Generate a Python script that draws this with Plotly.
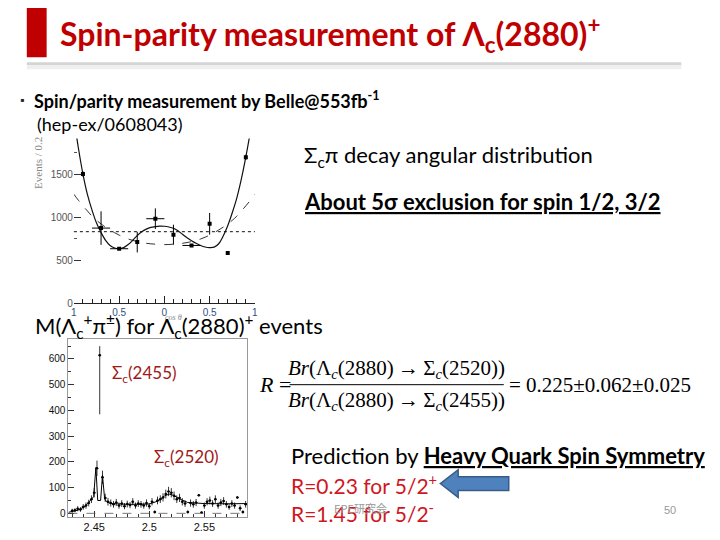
import plotly.graph_objects as go

W, H = 720, 540
def px(x): return x / W
def py(y): return 1 - y / H

# ---------------- data: angular distribution ----------------
cos_centers = [-0.9, -0.7, -0.5, -0.3, -0.1, 0.1, 0.3, 0.5, 0.7, 0.9]
cos_counts = [1500, 872, 632, 709, 981, 795, 670, 922, 581, 1694]
cos_err = [30, 195, 15, 120, 120, 116, 15, 126, 10, 30]
cos_xerr = [0.0, 0.1, 0.1, 0.0, 0.1, 0.0, 0.1, 0.0, 0.0, 0.0]

fit_x = [-1.0, -0.95, -0.9, -0.85, -0.8, -0.75, -0.7, -0.65, -0.6, -0.55, -0.5, -0.45, -0.4,
         -0.35, -0.3, -0.25, -0.2, -0.15, -0.1, -0.05, 0.0, 0.05, 0.1, 0.15, 0.2, 0.25, 0.3,
         0.35, 0.4, 0.45, 0.5, 0.55, 0.6, 0.65, 0.7, 0.75, 0.8, 0.85, 0.9, 0.95, 1.0]
fit_52 = [2150, 1800, 1500, 1260, 1080, 930, 820, 730, 670, 640, 632, 645, 680,
          730, 785, 830, 860, 880, 890, 895, 893, 885, 870, 840, 800, 760, 725,
          695, 670, 652, 645, 650, 690, 780, 900, 1050, 1220, 1440, 1700, 1990, 2300]
fit_32 = [1265, 1195, 1130, 1070, 1010, 962, 920, 883, 850, 818, 790, 766, 745,
          729, 715, 704, 695, 689, 685, 681, 680, 681, 685, 689, 695, 704, 715,
          729, 745, 766, 790, 818, 850, 883, 920, 962, 1010, 1070, 1130, 1195, 1265]
flat_level = 830

cos_ticks = [-1, -0.5, 0, 0.5, 1]
cos_ticktext = ["1", "0.5", "0", "0.5", "1"]
ev_ticks = [0, 500, 1000, 1500]

# ---------------- data: mass distribution ----------------
mass = [2.4300 + 0.0025 * i for i in range(64)]
mass_counts = [10, 12, 18, 15, 25, 30, 40, 55, 80, 175, 615, 140, 60, 45, 40, 35,
               42, 30, 38, 28, 36, 32, 45, 30, 38, 35, 30, 40, 28, 45, 5, 50,
               55, 62, 75, 85, 80, 68, 55, 60, 45, 38, 5, 40, 35, 42, 70, 3,
               30, 45, 50, 38, 55, 30, 42, 48, 35, 25, 38, 30, 62, 20, 5, 35]
mass_err_up = [8, 8, 10, 9, 11, 12, 13, 15, 18, 30, 35, 26, 16, 15, 14, 13,
               14, 12, 13, 12, 13, 12, 14, 12, 13, 13, 12, 14, 12, 14, 6, 15,
               15, 16, 17, 18, 18, 17, 15, 16, 14, 13, 6, 14, 13, 14, 4, 4,
               12, 14, 15, 13, 15, 12, 14, 15, 13, 11, 13, 12, 4, 11, 6, 13]
mass_err_dn = list(mass_err_up)
mass_err_dn[10] = 230

curve_m = [2.4266, 2.435, 2.442, 2.447, 2.4495, 2.4515, 2.4532, 2.4558, 2.4575, 2.4595,
           2.4615, 2.465, 2.48, 2.50, 2.508, 2.514, 2.518, 2.522, 2.528, 2.535, 2.55,
           2.57, 2.5887]
curve_v = [4, 12, 28, 50, 65, 178, 50, 50, 148, 55, 45, 38, 35, 36, 48, 68, 75, 70,
           55, 42, 38, 37, 38]
mass_ticks = [2.45, 2.5, 2.55]
mass_ticktext = ["2.45", "2.5", "2.55"]

fig = go.Figure()

# top plot traces
fig.add_trace(go.Scatter(x=fit_x, y=fit_32, mode="lines", line=dict(color="#333", width=1, dash="dash"),
                         line_shape="spline", xaxis="x", yaxis="y", showlegend=False, hoverinfo="skip"))
fig.add_trace(go.Scatter(x=fit_x, y=fit_52, mode="lines", line=dict(color="#111", width=1.2),
                         line_shape="spline", xaxis="x", yaxis="y", showlegend=False, hoverinfo="skip"))
fig.add_trace(go.Scatter(x=cos_centers, y=cos_counts, mode="markers",
                         marker=dict(color="black", size=4, symbol="square"),
                         error_y=dict(type="data", array=cos_err, color="black", thickness=1, width=0),
                         error_x=dict(type="data", array=cos_xerr, color="black", thickness=1, width=0),
                         xaxis="x", yaxis="y", showlegend=False))

# bottom plot traces
fig.add_trace(go.Scatter(x=curve_m, y=curve_v, mode="lines", line=dict(color="black", width=1),
                         xaxis="x2", yaxis="y2", showlegend=False, hoverinfo="skip"))
fig.add_trace(go.Scatter(x=mass, y=mass_counts, mode="markers",
                         marker=dict(color="black", size=2.5),
                         error_y=dict(type="data", symmetric=False, array=mass_err_up, arrayminus=mass_err_dn,
                                      color="black", thickness=0.8, width=0),
                         error_x=dict(type="constant", value=0.00125, color="black", thickness=0.8, width=0),
                         xaxis="x2", yaxis="y2", showlegend=False))

tickfont = dict(family="Liberation Sans, Arial", size=10, color="#555")
fig.update_layout(
    width=W, height=H, margin=dict(l=0, r=0, t=0, b=0),
    paper_bgcolor="white", plot_bgcolor="rgba(0,0,0,0)",
    xaxis=dict(domain=[px(71.5), px(254)], range=[-1, 1], anchor="y",
               showline=True, linecolor="#222", linewidth=1, showgrid=False, zeroline=False,
               ticks="inside", ticklen=7, tickcolor="#222", tickvals=cos_ticks, ticktext=cos_ticktext,
               tickfont=dict(family="Liberation Sans, Arial", size=10, color="#2f4f7f"),
               minor=dict(ticks="inside", dtick=0.1, ticklen=4, tickcolor="#222", showgrid=False),
               fixedrange=True),
    yaxis=dict(domain=[py(306.5), py(140)], range=[0, 1914], anchor="x",
               showline=False, showgrid=False, zeroline=False,
               ticks="inside", ticklen=7, tickcolor="#333", tickvals=ev_ticks,
               tickfont=tickfont,
               minor=dict(ticks="inside", tickvals=[750, 1750], ticklen=3, tickcolor="#555", showgrid=False),
               fixedrange=True),
    xaxis2=dict(domain=[px(66), px(246)], range=[2.4266, 2.5887], anchor="y2",
                showline=True, mirror=True, linecolor="#999", linewidth=1, showgrid=False, zeroline=False,
                ticks="inside", ticklen=6, tickcolor="#333", tickvals=mass_ticks, ticktext=mass_ticktext,
                tickfont=dict(family="Liberation Sans, Arial", size=11, color="#111"),
                minor=dict(ticks="inside", dtick=0.01, ticklen=3, tickcolor="#333", showgrid=False),
                fixedrange=True),
    yaxis2=dict(domain=[py(523), py(343)], range=[-15, 677], anchor="x2",
                showline=True, mirror=True, linecolor="#999", linewidth=1, showgrid=False, zeroline=False,
                ticks="inside", ticklen=6, tickcolor="#333", dtick=100, tick0=0,
                tickfont=dict(family="Liberation Sans, Arial", size=10, color="#111"),
                minor=dict(ticks="inside", dtick=50, ticklen=3, tickcolor="#333", showgrid=False),
                fixedrange=True),
)

shapes = []
shapes.append(dict(type="line", xref="x domain", yref="y", x0=0, x1=1, y0=flat_level, y1=flat_level,
                   line=dict(color="#111", width=1, dash="dot")))
shapes.append(dict(type="line", xref="x2 domain", yref="y2", x0=0, x1=1, y0=0, y1=0,
                   line=dict(color="#555", width=0.8, dash="dash")))
shapes.append(dict(type="rect", xref="paper", yref="paper", x0=px(24), x1=px(44), y0=py(58), y1=py(8),
                   fillcolor="#C00000", line=dict(width=0)))
shapes.append(dict(type="rect", xref="paper", yref="paper", x0=px(24), x1=px(684), y0=py(66), y1=py(63),
                   fillcolor="#D4D4D4", line=dict(width=0)))
shapes.append(dict(type="rect", xref="paper", yref="paper", x0=px(24), x1=px(684), y0=py(70), y1=py(66),
                   fillcolor="#EFEFEF", line=dict(width=0)))
shapes.append(dict(type="line", xref="paper", yref="paper", x0=px(289), x1=px(505), y0=py(389), y1=py(389),
                   line=dict(color="black", width=1)))
pts = [(441, 489), (459, 475), (459, 482), (510, 482), (510, 496), (459, 496), (459, 503)]
path = "M " + " L ".join(f"{px(a):.5f},{py(b):.5f}" for a, b in pts) + " Z"
shapes.append(dict(type="path", xref="paper", yref="paper", path=path,
                   fillcolor="#4F81BD", line=dict(color="#385D8A", width=1.5)))
fig.update_layout(shapes=shapes)

body = "Lato, 'Open Sans', sans-serif"
red = "#C00000"
ann = []
def A(x, y, text, size, color="black", family=body, xanchor="left", yanchor="middle", angle=0):
    ann.append(dict(x=px(x), y=py(y), xref="paper", yref="paper", text=text, showarrow=False,
                    xanchor=xanchor, yanchor=yanchor, textangle=angle,
                    font=dict(family=family, size=size, color=color)))

A(55, 35, "<b>Spin-parity measurement of Λ<sub>c</sub>(2880)<sup>+</sup></b>", 32, red)
A(15, 101, "▪", 11, "#222")
A(29, 101, "<b>Spin/parity measurement by Belle@553fb<sup>-1</sup></b>", 18)
A(32, 125, "(hep-ex/0608043)", 18)
A(302, 158, "Σ<sub>c</sub>π decay angular distribution", 22)
A(302, 204, "<b><u>About 5σ exclusion for spin 1/2, 3/2</u></b>", 22)
A(35, 165, "Events / 0.2", 11, "#888", "Liberation Serif, serif", "center", "middle", -90)
A(172, 321, "<i>cos θ</i>", 8, "#888", "Liberation Serif, serif", "center")
A(30, 330, "M(Λ<sub>c</sub><sup>+</sup>π<sup>±</sup>) for Λ<sub>c</sub>(2880)<sup>+</sup> events", 22)
A(108, 378, "Σ<sub>c</sub>(2455)", 17, "#A01818")
A(150, 463, "Σ<sub>c</sub>(2520)", 17, "#A01818")
serif = "Liberation Serif, 'Times New Roman', serif"
ts = "\u2009"
A(256, 389, "<i>R</i> =", 22, "black", serif)
A(397, 373, f"<i>Br</i>(Λ<sub><i>c</i></sub>(2880){ts}→{ts}Σ<sub><i>c</i></sub>(2520))", 21, "black", serif, "center")
A(397, 406, f"<i>Br</i>(Λ<sub><i>c</i></sub>(2880){ts}→{ts}Σ<sub><i>c</i></sub>(2455))", 21, "black", serif, "center")
A(508, 389, "= 0.225±0.062±0.025", 21, "black", serif)
A(288, 461, "Prediction by <b><u>Heavy Quark Spin Symmetry</u></b>", 22)
A(288, 489, "R=0.23 for 5/2<sup>+</sup>", 21, "#D0161E")
A(288, 518, "R=1.45 for 5/2<sup>-</sup>", 21, "#D0161E")
A(332, 514, "EPE研究会", 11, "#999", "'Noto Sans CJK JP', sans-serif")
A(665, 516, "50", 11, "#999", "Liberation Sans, Arial")
fig.update_layout(annotations=ann)

fig.write_html("out.html", config={"displayModeBar": False},
               post_script="document.body.style.margin='0';")
